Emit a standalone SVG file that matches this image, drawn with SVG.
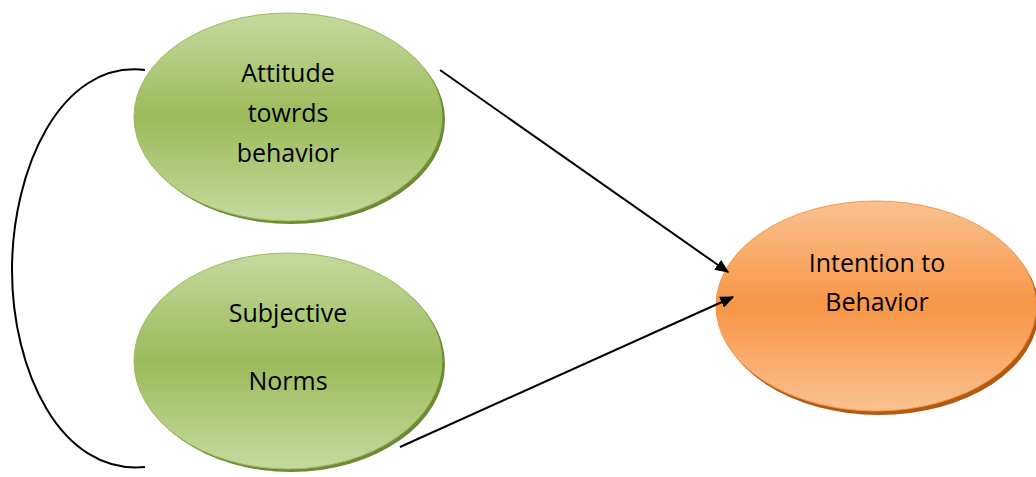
<svg xmlns="http://www.w3.org/2000/svg" width="1036" height="477" viewBox="0 0 1036 477">
<defs>
<linearGradient id="gg" x1="0" y1="0" x2="0" y2="1">
<stop offset="0" stop-color="#c5d99f"/><stop offset="0.5" stop-color="#9bbb59"/><stop offset="1" stop-color="#c5d99f"/>
</linearGradient>
<linearGradient id="og" x1="0" y1="0" x2="0" y2="1">
<stop offset="0" stop-color="#fac191"/><stop offset="0.5" stop-color="#f79646"/><stop offset="1" stop-color="#fac191"/>
</linearGradient>
<marker id="ah" viewBox="0 0 10 10" refX="9" refY="5" markerWidth="7" markerHeight="6" orient="auto" markerUnits="strokeWidth" preserveAspectRatio="none">
<path d="M0,0 L10,5 L0,10 Z" fill="#000"/>
</marker>
</defs>
<style>
text{font-family:"Open Sans","Liberation Sans",sans-serif;font-size:25px;fill:#000;text-anchor:middle}
.gs{fill:#6f8a36}
.os{fill:#b35a12}
.g{fill:url(#gg);stroke:#9bbb59;stroke-width:1}
.o{fill:url(#og);stroke:#f79646;stroke-width:1}
.c{fill:none;stroke:#000;stroke-width:2}
</style>
<g id="attitude">
<ellipse class="gs" cx="291" cy="120" rx="154" ry="104"/>
<ellipse class="g" cx="288" cy="117" rx="154" ry="104"/>
<text x="288" y="82">Attitude</text>
<text x="288" y="122">towrds</text>
<text x="288" y="162">behavior</text>
</g>
<g id="norms">
<ellipse class="gs" cx="291" cy="364" rx="154" ry="108"/>
<ellipse class="g" cx="288" cy="361" rx="154" ry="108"/>
<text x="288" y="322">Subjective</text>
<text x="288" y="390">Norms</text>
</g>
<g id="intention">
<ellipse class="os" cx="879" cy="310" rx="160" ry="105"/>
<ellipse class="o" cx="876" cy="306" rx="160" ry="105"/>
<text x="877" y="272">Intention to</text>
<text x="877" y="311">Behavior</text>
</g>
<g id="connectors">
<path class="c" d="M145,70 C60,60 12,170 12,270 C12,370 60,475 145,467" stroke-width="1.5"/>
<line class="c" x1="440" y1="70" x2="728" y2="272" marker-end="url(#ah)"/>
<line class="c" x1="400" y1="447" x2="733" y2="297" marker-end="url(#ah)"/>
</g>
</svg>
